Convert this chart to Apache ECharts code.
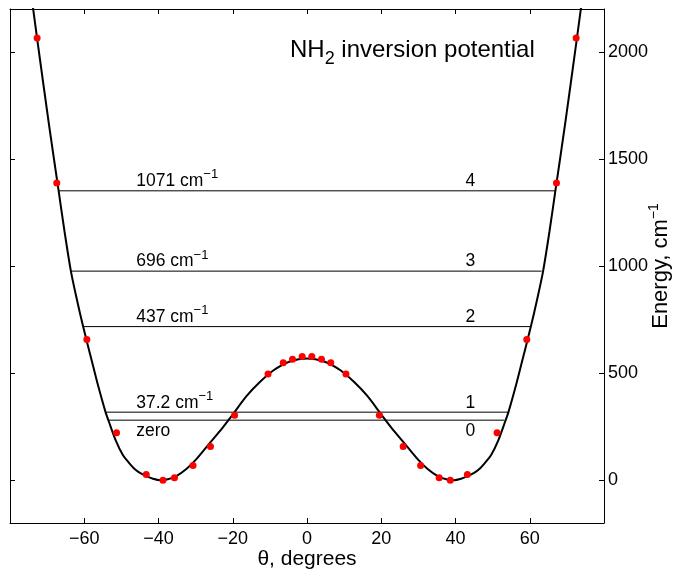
<!DOCTYPE html>
<html><head><meta charset="utf-8">
<script src="https://cdn.jsdelivr.net/npm/echarts@6/dist/echarts.min.js"></script>
<style>html,body{margin:0;padding:0;background:#fff}#c{width:676px;height:571px}</style>
</head><body><div id="c"></div>
<script>
// fitted potential curve (theta in degrees, energy in cm^-1)
const curveTheta = [-74.3, -72.7, -69.5, -66.9, -65.3, -63.6, -62.0, -60.3, -58.3, -56.4, -54.3, -53.4, -51.5, -49.6, -48.0, -46.5, -45.0, -43.3, -41.5, -39.5, -37.5, -35.2, -32.5, -29.8, -26.2, -22.6, -19.9, -16.3, -12.7, -9.1, -4.6, 0, 4.6, 9.1, 12.7, 16.3, 19.9, 22.6, 26.2, 29.8, 32.5, 35.2, 37.5, 39.5, 41.5, 43.3, 45.0, 46.5, 48.0, 49.6, 51.5, 53.4, 54.3, 56.4, 58.3, 60.3, 62.0, 63.6, 65.3, 66.9, 69.5, 72.7, 74.3];
const curveEnergy = [2270, 2063, 1660, 1351, 1160, 976, 845, 717, 580, 450, 320, 275, 185, 118, 82, 53, 34, 19, 7, 0, 4, 19, 52, 98, 173, 248, 309, 392, 458, 512, 554, 568, 554, 512, 458, 392, 309, 248, 173, 98, 52, 19, 4, 0, 7, 19, 34, 53, 82, 118, 185, 275, 320, 450, 580, 717, 845, 976, 1160, 1351, 1660, 2063, 2270];
// ab initio points (red dots)
const pointTheta = [-72.7, -67.4, -59.3, -51.3, -43.3, -38.8, -35.7, -30.7, -26.0, -19.5, -10.5, -6.4, -3.9, -1.3, 1.3, 3.9, 6.4, 10.5, 19.5, 25.9, 30.6, 35.6, 38.6, 43.2, 51.2, 59.2, 67.2, 72.5];
const pointEnergy = [2065, 1388, 657, 221, 27, 0, 11, 69, 157, 303, 496, 548, 565, 578, 578, 565, 548, 496, 303, 157, 69, 11, 0, 27, 221, 657, 1388, 2065];
// vibrational levels
const levelEnergy = [280, 317, 717, 976, 1351];
const levelThetaMin = [-53.4, -54.3, -60.3, -63.6, -66.9];
const levelThetaMax = [53.2, 54.2, 60.4, 63.2, 66.9];
const levelLeftText = ['zero', '37.2', '437', '696', '1071'];
const levelRightText = ['0', '1', '2', '3', '4'];
// ticks
const xTicks = [-60, -40, -20, 0, 20, 40, 60];
const yTicks = [0, 500, 1000, 1500, 2000];

const FONT = "'Liberation Sans', Arial, Helvetica, sans-serif";
const chart = echarts.init(document.getElementById('c'), null, {renderer: 'canvas'});

const minus = v => String(v).replace('-', '\u2212');
const axisBase = {
  axisLine: {show: true, onZero: false, lineStyle: {color: '#000', width: 1}},
  splitLine: {show: false}
};

const xAxes = [0, 1].map(i => Object.assign({}, axisBase, {
  type: 'value', min: -80, max: 80, position: i === 0 ? 'bottom' : 'top',
  axisTick: {show: true, inside: true, length: 5, customValues: xTicks, lineStyle: {color: '#000'}},
  axisLabel: {show: i === 0, customValues: xTicks, formatter: minus, color: '#000', fontSize: 18, fontFamily: FONT, margin: 7},
  name: i === 0 ? 'θ, degrees' : '', nameLocation: 'middle', nameGap: 26, nameMoveOverlap: false,
  nameTextStyle: {color: '#000', fontSize: 21, fontFamily: FONT}
}));
const yAxes = [0, 1].map(i => Object.assign({}, axisBase, {
  type: 'value', min: -200, max: 2200, position: i === 0 ? 'right' : 'left',
  axisTick: {show: true, inside: true, length: 5, customValues: yTicks, lineStyle: {color: '#000'}},
  axisLabel: {show: i === 0, customValues: yTicks, formatter: v => String(v), color: '#000', fontSize: 18, fontFamily: FONT, margin: 4},
  name: i === 0 ? '{a|Energy, cm}{s|\u22121}' : '', nameLocation: 'middle', nameGap: 43, nameRotate: 90, nameMoveOverlap: false,
  nameTextStyle: {color: '#000', fontSize: 22, fontFamily: FONT,
    rich: {a: {fontSize: 22, fontFamily: FONT, color: '#000', verticalAlign: 'bottom'},
           s: {fontSize: 14, fontFamily: FONT, color: '#000', verticalAlign: 'bottom', padding: [0, 0, 11, 0]}}}
}));

const series = [];
series.push({
  type: 'line', name: 'fit', xAxisIndex: 0, yAxisIndex: 0,
  data: curveTheta.map((t, i) => [t, curveEnergy[i]]),
  symbol: 'none', smooth: 0.3, clip: true,
  lineStyle: {color: '#000', width: 2}, z: 3, silent: true
});
levelEnergy.forEach((e, i) => {
  series.push({
    type: 'line', name: 'level' + i, xAxisIndex: 0, yAxisIndex: 0,
    data: [[levelThetaMin[i], e], [levelThetaMax[i], e]],
    symbol: 'none', lineStyle: {color: i < 2 ? '#555' : '#000', width: i < 2 ? 1.5 : 1}, z: 2, silent: true
  });
});
series.push({
  type: 'scatter', name: 'points', xAxisIndex: 0, yAxisIndex: 0,
  data: pointTheta.map((t, i) => [t, pointEnergy[i]]),
  symbol: 'circle', symbolSize: 7, itemStyle: {color: '#ff0000', opacity: 1}, z: 5, silent: true
});
const labRich = {
  n: {fontSize: 17.5, fontFamily: FONT, color: '#000', verticalAlign: 'bottom'},
  s: {fontSize: 13, fontFamily: FONT, color: '#000', verticalAlign: 'bottom', padding: [0, 0, 9, 0]}
};
series.push({
  type: 'scatter', name: 'leftLabels', xAxisIndex: 0, yAxisIndex: 0,
  symbolSize: 1, itemStyle: {color: 'rgba(0,0,0,0)', opacity: 1}, silent: true, z: 6,
  data: levelEnergy.map((e, i) => ({
    value: [-46, e],
    label: {
      show: true, color: '#000', opacity: 1, position: i === 0 ? 'bottom' : 'top', align: 'left', distance: i === 0 ? 1 : 0,
      formatter: i === 0 ? '{n|zero}' : '{n|' + levelLeftText[i] + ' cm}{s|\u22121}',
      rich: labRich
    }
  }))
});
series.push({
  type: 'scatter', name: 'rightLabels', xAxisIndex: 0, yAxisIndex: 0,
  symbolSize: 1, itemStyle: {color: 'rgba(0,0,0,0)', opacity: 1}, silent: true, z: 6,
  data: levelEnergy.map((e, i) => ({
    value: [44, e],
    label: {
      show: true, color: '#000', opacity: 1, position: i === 0 ? 'bottom' : 'top', align: 'center', distance: i === 0 ? 1 : 0,
      formatter: '{n|' + levelRightText[i] + '}', rich: labRich
    }
  }))
});

chart.setOption({
  animation: false,
  backgroundColor: '#fff',
  grid: {left: 10, right: 72, top: 9, bottom: 48, containLabel: false, outerBoundsMode: 'none'},
  xAxis: xAxes,
  yAxis: yAxes,
  graphic: [{
    type: 'text', left: 290, top: 38, z: 10,
    style: {
      text: '{m|NH}{b|2}{m| inversion potential}',
      rich: {
        m: {fontSize: 24, fontFamily: FONT, fill: '#000', verticalAlign: 'top'},
        b: {fontSize: 18, fontFamily: FONT, fill: '#000', verticalAlign: 'top', padding: [12, 0, 0, 0]}
      }
    }
  }],
  series: series
});
</script></body></html>
